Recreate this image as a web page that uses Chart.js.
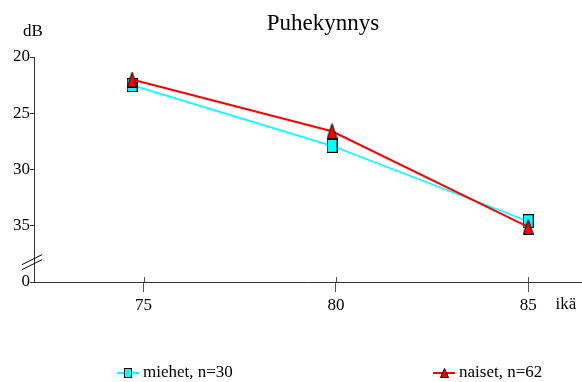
<!DOCTYPE html>
<html>
<head>
<meta charset="utf-8">
<script src="https://cdn.jsdelivr.net/npm/chart.js@4"></script>
<style>
  html, body { margin: 0; padding: 0; background: #fff; }
  canvas { display: block; }
</style>
</head>
<body>
<canvas id="chart" width="582" height="382"></canvas>
<script>
// Mean hearing threshold by age group
const ageX = [74.7, 79.9, 85.0];
const miehetDb = [22.5, 27.9, 34.6];
const naisetDb = [22.0, 26.6, 35.1];
const xTicks = [75, 80, 85];
const yTicks = [20, 25, 30, 35, 40];
const yTickLabels = ['20', '25', '30', '35', '0'];
const seriesNames = ['miehet, n=30', 'naiset, n=62'];

const FONT = '"Liberation Serif", "Times New Roman", serif';

/* ── marker images ── */
function squareMarker(w, h) {
    const c = document.createElement('canvas');
    c.width = w + 1; c.height = h + 1;
    const g = c.getContext('2d');
    g.fillStyle = '#00ffff';
    g.fillRect(0.5, 0.5, w, h);
    g.strokeStyle = '#000';
    g.lineWidth = 1;
    g.strokeRect(0.5, 0.5, w, h);
    return c;
}
function triangleMarker(w, h) {
    const c = document.createElement('canvas');
    c.width = w + 1; c.height = h + 1;
    const g = c.getContext('2d');
    g.beginPath();
    g.moveTo(0.5 + w / 2, 0.5);
    g.lineTo(0.5 + w, 0.5 + h);
    g.lineTo(0.5, 0.5 + h);
    g.closePath();
    g.fillStyle = '#ff0000';
    g.fill();
    g.strokeStyle = '#000';
    g.lineWidth = 1;
    g.stroke();
    return c;
}
const sqBig = squareMarker(10, 13);
const triBig = triangleMarker(10, 15);
const sqSmall = squareMarker(7, 9);
const triSmall = triangleMarker(8, 9);

/* ── title, axis captions, break mark, legend ── */
const decor = {
    id: 'decor',
    afterDraw(chart) {
        const ctx = chart.ctx;
        const xs = chart.scales.x, ys = chart.scales.y;
        const area = chart.chartArea;
        ctx.save();
        ctx.fillStyle = '#000';

        ctx.font = `23px ${FONT}`;
        ctx.textAlign = 'center';
        ctx.textBaseline = 'alphabetic';
        ctx.fillText('Puhekynnys', 323, 30);

        ctx.font = `17px ${FONT}`;
        ctx.textBaseline = 'middle';
        ctx.fillText('dB', 33, 32);
        ctx.fillText('ikä', 566, 305);

        // upper half of the x tick marks
        ctx.strokeStyle = '#555';
        ctx.lineWidth = 1;
        xTicks.forEach(t => {
            const px = Math.round(xs.getPixelForValue(t)) + 0.5;
            ctx.beginPath();
            ctx.moveTo(px, area.bottom);
            ctx.lineTo(px, area.bottom - 5);
            ctx.stroke();
        });

        // axis break on the y axis
        const yb = ys.getPixelForValue(38.1);
        ctx.strokeStyle = '#000';
        ctx.beginPath();
        ctx.moveTo(area.left - 12, yb + 4);
        ctx.lineTo(area.left + 8, yb - 6);
        ctx.moveTo(area.left - 12, yb + 9);
        ctx.lineTo(area.left + 8, yb - 1);
        ctx.stroke();

        // legend
        const items = [
            { x0: 117, x1: 139, color: '#00ffff', img: sqSmall, label: seriesNames[0] },
            { x0: 433, x1: 455, color: '#ff0000', img: triSmall, label: seriesNames[1] }
        ];
        const ly = 373;
        ctx.textAlign = 'left';
        items.forEach(it => {
            ctx.strokeStyle = it.color;
            ctx.lineWidth = 2;
            ctx.beginPath();
            ctx.moveTo(it.x0, ly);
            ctx.lineTo(it.x1, ly);
            ctx.stroke();
            const cx = (it.x0 + it.x1) / 2;
            ctx.drawImage(it.img, Math.round(cx - it.img.width / 2), Math.round(ly - it.img.height / 2));
            ctx.fillStyle = '#000';
            ctx.fillText(it.label, it.x1 + 4, ly);
        });
        ctx.restore();
    }
};

const toPoints = vals => vals.map((v, i) => ({ x: ageX[i], y: v }));

new Chart(document.getElementById('chart').getContext('2d'), {
    type: 'line',
    data: {
        datasets: [
            { label: seriesNames[1], data: toPoints(naisetDb), borderColor: '#ff0000', borderWidth: 2,
              pointStyle: triBig, order: 0 },
            { label: seriesNames[0], data: toPoints(miehetDb), borderColor: '#00ffff', borderWidth: 1.6,
              pointStyle: sqBig, order: 1 }
        ]
    },
    options: {
        responsive: false,
        animation: false,
        layout: { autoPadding: false, padding: { top: 57, right: 0, bottom: 0, left: 0 } },
        plugins: { legend: { display: false }, title: { display: false }, tooltip: { enabled: false } },
        elements: { line: { tension: 0 } },
        scales: {
            x: {
                type: 'linear',
                min: 72.15,
                max: 86.4,
                afterBuildTicks: s => { s.ticks = xTicks.map(v => ({ value: v })); },
                afterFit: s => { s.height = 100; s.paddingLeft = 0; s.paddingRight = 0; },
                ticks: { color: '#000', font: { family: FONT, size: 17 }, padding: 3 },
                grid: { drawOnChartArea: false, tickLength: 10, color: '#555' },
                border: { color: '#333', width: 1 }
            },
            y: {
                reverse: true,
                min: 20,
                max: 40,
                afterBuildTicks: s => { s.ticks = yTicks.map(v => ({ value: v })); },
                afterFit: s => { s.width = 34; s.paddingTop = 0; s.paddingBottom = 0; },
                ticks: {
                    color: '#000', font: { family: FONT, size: 17 }, padding: 0,
                    callback: v => yTickLabels[yTicks.indexOf(v)]
                },
                grid: { drawOnChartArea: false, tickLength: 4, color: '#333' },
                border: { color: '#333', width: 1 }
            }
        }
    },
    plugins: [decor]
});
</script>
</body>
</html>
